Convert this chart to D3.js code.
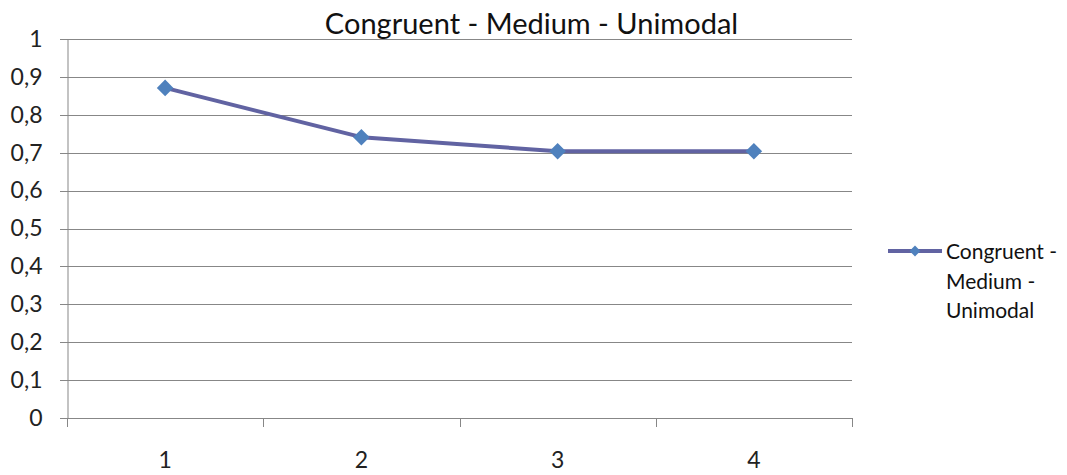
<!DOCTYPE html>
<html>
<head>
<meta charset="utf-8">
<script src="https://cdn.jsdelivr.net/npm/d3@7"></script>
<style>
  html, body { margin: 0; padding: 0; background: #fff; }
  svg { display: block; font-family: Lato, "Open Sans", sans-serif; }
</style>
</head>
<body>
<svg id="chart" width="1067" height="475"></svg>
<script>
// Chart data
const categories = ["1", "2", "3", "4"];
const seriesName = "Congruent - Medium - Unimodal";
const seriesValues = [0.871, 0.741, 0.704, 0.704];
const yTicks = [0, 0.1, 0.2, 0.3, 0.4, 0.5, 0.6, 0.7, 0.8, 0.9, 1];
const legendLines = ["Congruent -", "Medium -", "Unimodal"];

const svg = d3.select("#chart");
const plot = { left: 67, right: 852, top: 39, bottom: 418 };

const x = d3.scaleBand().domain(categories).range([plot.left, plot.right]);
const y = d3.scaleLinear().domain([0, 1]).range([plot.bottom, plot.top]);

const gridColor = "#878787";
const lineColor = "#6163A2";
const markerColor = "#4F81BD";

// Horizontal gridlines
svg.append("g")
  .selectAll("line")
  .data(yTicks)
  .join("line")
  .attr("x1", plot.left - 7)
  .attr("x2", plot.right)
  .attr("y1", d => Math.round(y(d)) + 0.5)
  .attr("y2", d => Math.round(y(d)) + 0.5)
  .attr("stroke", gridColor)
  .attr("stroke-width", 1);

// Y axis
const yAxis = svg.append("g")
  .attr("transform", `translate(${plot.left + 0.5},0)`)
  .call(d3.axisLeft(y).tickValues(yTicks).tickSize(0).tickPadding(25)
    .tickFormat(d => d3.format(".1~f")(d).replace(".", ",")));
yAxis.select(".domain").attr("stroke", gridColor);
yAxis.selectAll("text").attr("font-size", 23).attr("fill", "#222")
  .attr("font-family", "Lato, sans-serif");

// X axis: ticks at category boundaries
const bounds = categories.map(c => x(c)).concat([x.range()[1]]);
svg.append("g")
  .selectAll("line")
  .data(bounds)
  .join("line")
  .attr("x1", d => Math.round(d) + 0.5)
  .attr("x2", d => Math.round(d) + 0.5)
  .attr("y1", plot.bottom)
  .attr("y2", plot.bottom + 9)
  .attr("stroke", gridColor);

const xAxis = svg.append("g")
  .attr("transform", `translate(0,${plot.bottom + 0.5})`)
  .call(d3.axisBottom(x).tickSize(0).tickPadding(33));
xAxis.select(".domain").remove();
xAxis.selectAll("text").attr("font-size", 23).attr("fill", "#222")
  .attr("font-family", "Lato, sans-serif");

// Series line
const pts = categories.map((c, i) => ({ c, v: seriesValues[i] }));
svg.append("path")
  .datum(pts)
  .attr("fill", "none")
  .attr("stroke", lineColor)
  .attr("stroke-width", 4)
  .attr("stroke-linejoin", "round")
  .attr("d", d3.line().x(d => x(d.c) + x.bandwidth() / 2).y(d => y(d.v)));

// Diamond markers
const diamond = d3.symbol().type(d3.symbolDiamond2).size(175);
svg.append("g")
  .selectAll("path")
  .data(pts)
  .join("path")
  .attr("d", diamond)
  .attr("transform", d => `translate(${x(d.c) + x.bandwidth() / 2},${y(d.v)})`)
  .attr("fill", markerColor);

// Title
svg.append("text")
  .attr("x", 531.5)
  .attr("y", 34)
  .attr("text-anchor", "middle")
  .attr("font-size", 29)
  .attr("fill", "#111")
  .text(seriesName);

// Legend
const lg = svg.append("g");
lg.append("line")
  .attr("x1", 888).attr("x2", 942)
  .attr("y1", 251).attr("y2", 251)
  .attr("stroke", lineColor).attr("stroke-width", 4);
lg.append("path")
  .attr("d", d3.symbol().type(d3.symbolDiamond2).size(75))
  .attr("transform", "translate(915,251)")
  .attr("fill", markerColor);
lg.selectAll("text")
  .data(legendLines)
  .join("text")
  .attr("x", 946)
  .attr("y", (d, i) => 252 + i * 29.5)
  .attr("dy", "0.35em")
  .attr("font-size", 21)
  .attr("fill", "#111")
  .text(d => d);
</script>
</body>
</html>
